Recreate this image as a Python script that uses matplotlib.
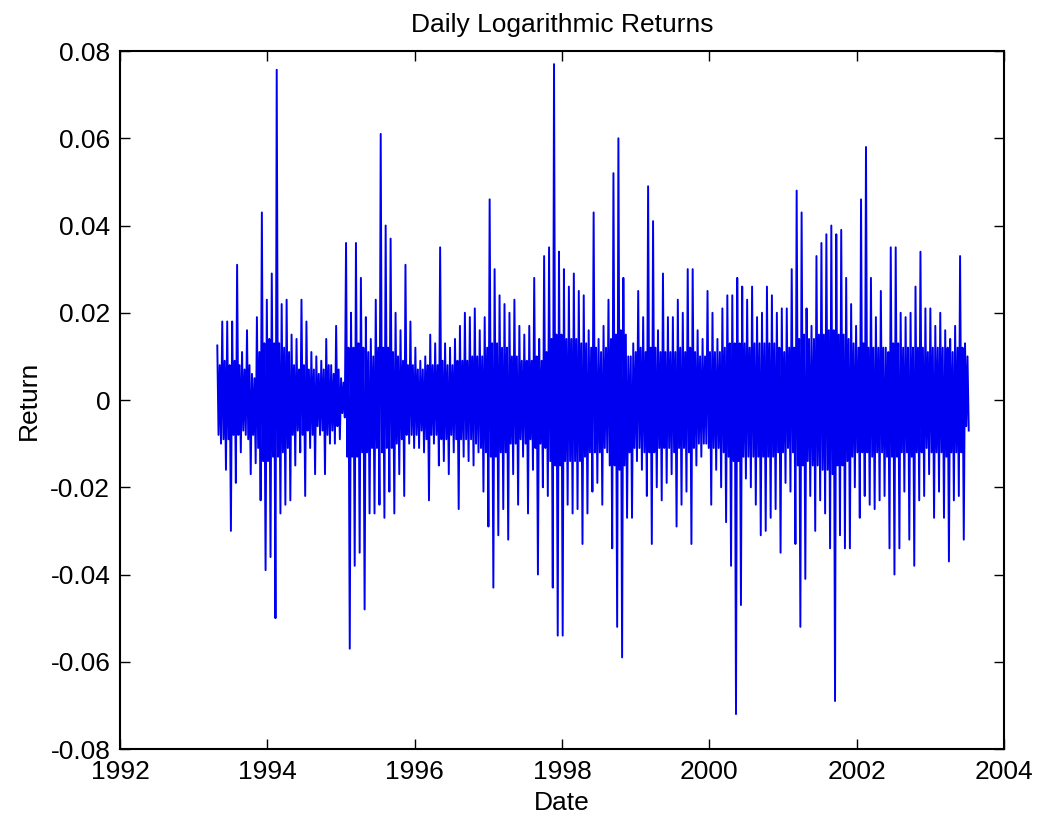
import numpy as np
import matplotlib
matplotlib.use('Agg')
import matplotlib.pyplot as plt

plt.rcParams['font.family'] = ['Liberation Sans', 'DejaVu Sans']
plt.rcParams['axes.unicode_minus'] = False

# first and last trading day shown (decimal years)
first_day = 1993.32
last_day = 2003.52

# envelope of the daily returns
# (spike tips up / down and the dense inner band)
highs = [
    .0125, .018, .018, .018, .031, .011, .016, .006, .019, .043, .023, .029, .0757,
    .022, .023, .015, .014, .023, .018, .011, .010, .009, .014, .008, .017, .005,
    .036, .020, .036, .028, .019, .014, .023, .061, .040, .037, .020,
    .016, .031, .018, .012, .009, .010, .015, .013, .035, .013, .012, .014, .017,
    .020, .019, .021, .016, .019, .046, .030, .024, .022, .020, .023, .017, .015,
    .017, .028, .014, .033, .035, .077, .034, .030, .026, .029, .025, .024,
    .016, .043, .014, .017, .023, .052, .060, .028, .010, .013, .025, .019, .049,
    .041, .016, .029, .019, .019, .023, .020, .030, .030, .016, .014, .025, .020,
    .014, .021, .024, .024, .028, .026, .023, .026, .019, .020, .026, .024,
    .020, .021, .021, .030, .048, .043, .021, .017, .033, .036, .038, .040, .038,
    .039, .028, .022, .017, .046, .058, .028, .019, .025, .012, .035, .035, .020,
    .019, .020, .026, .034, .021, .021, .017, .020, .016, .014, .017, .033, .013,
]
lows = [
    -.010, -.016, -.030, -.019, -.012, -.008, -.017, -.0145, -.023, -.039, -.036, -.050, -.026,
    -.024, -.023, -.015, -.012, -.022, -.011, -.017, -.008, -.017, -.010, -.010, -.009, -.004,
    -.057, -.038, -.035, -.048, -.026, -.026, -.024, -.027, -.021, -.026, -.017,
    -.022, -.010, -.011, -.011, -.012, -.023, -.010, -.015, -.014, -.017, -.012, -.025, -.013,
    -.014, -.015, -.012, -.021, -.029, -.043, -.031, -.025, -.032, -.017, -.024, -.013, -.026,
    -.016, -.040, -.020, -.022, -.043, -.054, -.054, -.024, -.026, -.025, -.033, -.026,
    -.021, -.019, -.024, -.012, -.034, -.052, -.059, -.027, -.027, -.014, -.016, -.022, -.033,
    -.020, -.023, -.019, -.017, -.029, -.024, -.021, -.033, -.015, -.013, -.010, -.024, -.016,
    -.020, -.028, -.038, -.072, -.047, -.018, -.020, -.024, -.031, -.030, -.027, -.025,
    -.035, -.019, -.021, -.033, -.052, -.041, -.022, -.030, -.023, -.026, -.034, -.069, -.031,
    -.034, -.034, -.020, -.027, -.022, -.024, -.025, -.023, -.022, -.034, -.040, -.034, -.021,
    -.032, -.038, -.023, -.022, -.017, -.027, -.021, -.027, -.037, -.023, -.022, -.032, -.007,
]
inner_hi = [
    .008, .009, .008, .009, .008, .007, .008, .005, .011, .013, .014, .013, .013,
    .012, .011, .008, .007, .008, .007, .007, .006, .007, .008, .006, .007, .004,
    .012, .012, .013, .012, .011, .010, .012, .012, .012, .011, .010,
    .009, .008, .008, .007, .007, .008, .008, .008, .009, .008, .008, .009, .009,
    .009, .010, .010, .010, .012, .013, .013, .012, .012, .010, .010, .009, .009,
    .009, .010, .009, .011, .014, .015, .015, .014, .014, .014, .013, .013,
    .012, .012, .011, .012, .014, .015, .016, .015, .010, .011, .012, .011, .012,
    .012, .011, .011, .011, .011, .012, .011, .012, .011, .010, .010, .011, .011,
    .011, .012, .013, .013, .013, .013, .012, .013, .013, .013, .013, .013,
    .012, .011, .012, .012, .014, .015, .014, .014, .015, .015, .016, .016, .015,
    .015, .014, .013, .012, .013, .012, .012, .012, .012, .011, .013, .013, .012,
    .012, .012, .012, .012, .011, .012, .012, .012, .012, .011, .012, .012, .010,
]
inner_lo = [
    -.008, -.009, -.009, -.008, -.008, -.007, -.009, -.008, -.011, -.014, -.014, -.013, -.013,
    -.012, -.011, -.008, -.007, -.008, -.007, -.008, -.006, -.007, -.008, -.007, -.006, -.003,
    -.013, -.013, -.013, -.012, -.012, -.011, -.011, -.012, -.011, -.011, -.010,
    -.009, -.008, -.008, -.008, -.007, -.009, -.008, -.008, -.009, -.009, -.008, -.009, -.009,
    -.009, -.009, -.010, -.011, -.012, -.013, -.013, -.012, -.012, -.010, -.010, -.009, -.010,
    -.009, -.011, -.010, -.011, -.014, -.015, -.015, -.014, -.014, -.014, -.014, -.013,
    -.012, -.012, -.012, -.011, -.015, -.015, -.016, -.015, -.012, -.011, -.011, -.012, -.012,
    -.012, -.011, -.011, -.011, -.012, -.011, -.011, -.012, -.011, -.010, -.010, -.011, -.011,
    -.011, -.012, -.013, -.014, -.014, -.013, -.013, -.013, -.013, -.013, -.013, -.013,
    -.012, -.012, -.011, -.012, -.015, -.015, -.014, -.015, -.015, -.016, -.016, -.017, -.015,
    -.015, -.014, -.013, -.012, -.012, -.012, -.013, -.012, -.012, -.013, -.013, -.013, -.012,
    -.012, -.013, -.012, -.012, -.011, -.012, -.012, -.012, -.013, -.012, -.012, -.012, -.006,
]

year_ticks = [1992, 1994, 1996, 1998, 2000, 2002, 2004]
return_ticks = [-0.08, -0.06, -0.04, -0.02, 0, 0.02, 0.04, 0.06, 0.08]
return_labels = ['-0.08', '-0.06', '-0.04', '-0.02', '0', '0.02', '0.04', '0.06', '0.08']

# tip up, into the band, back out, tip down -> one column of the trace
returns = np.column_stack([highs, inner_lo, inner_hi, lows]).ravel()
dates = np.linspace(first_day, last_day, len(returns))

fig = plt.figure(figsize=(10.43, 8.23), dpi=100)
ax = fig.add_axes([0.1151, 0.0899, 0.8476, 0.8481])
ax.plot(dates, returns, color='#0000f0', linewidth=1.4)

ax.set_xlim(1992, 2004)
ax.set_ylim(-0.08, 0.08)
ax.set_xticks(year_ticks)
ax.set_xticklabels([str(y) for y in year_ticks])
ax.set_yticks(return_ticks)
ax.set_yticklabels(return_labels)
ax.tick_params(direction='in', top=True, right=True, length=7, width=1,
               labelsize=19, colors='black')
ax.tick_params(axis='x', pad=8)
ax.tick_params(axis='y', pad=7)
for sp in ax.spines.values():
    sp.set_linewidth(1.5)

ax.set_title('Daily Logarithmic Returns', fontsize=19, pad=13.5)
ax.set_xlabel('Date', fontsize=19, labelpad=5)
ax.set_ylabel('Return', fontsize=19, labelpad=7)

fig.savefig('out.png', dpi=100)
